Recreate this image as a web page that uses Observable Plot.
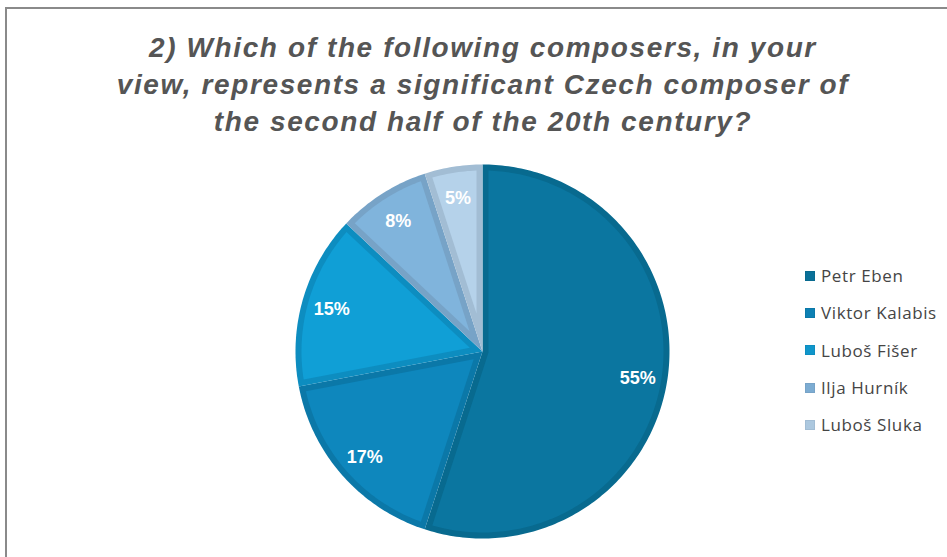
<!DOCTYPE html>
<html>
<head>
<meta charset="utf-8">
<script src="https://cdn.jsdelivr.net/npm/d3@7"></script>
<script src="https://cdn.jsdelivr.net/npm/@observablehq/plot@0.6"></script>
<style>
  html, body { margin: 0; padding: 0; background: #fff; }
  #wrap { position: relative; width: 947px; height: 557px; overflow: hidden; background: #fff; }
  #frame { position: absolute; left: 5px; top: 7px; width: 960px; height: 560px;
           border-left: 2px solid #8a8a8a; border-top: 2px solid #8a8a8a; }
  #title { position: absolute; left: 0; top: 29px; width: 966px; text-align: center;
           font-family: "Liberation Sans", Arial, sans-serif; font-weight: bold; font-style: italic;
           font-size: 28px; letter-spacing: 1.6px; line-height: 37px; color: #555555; }
  #chart { position: absolute; left: 0; top: 150px; }
  #legend { position: absolute; left: 805px; top: 257px;
            font-family: "Open Sans", "Liberation Sans", sans-serif; font-size: 17px; letter-spacing: 0.6px; color: #454545; }
  .item { height: 37.3px; display: flex; align-items: center; white-space: nowrap; }
  .sw { width: 10px; height: 10px; margin-right: 6px; box-sizing: border-box; border: 1px solid; }
</style>
</head>
<body>
<div id="wrap">
  <div id="frame"></div>
  <div id="title"></div>
  <div id="chart"></div>
  <div id="legend"></div>
</div>
<script>
// ---- data ----
const titleLines = [
  "2) Which of the following composers, in your",
  "view, represents a significant Czech composer of",
  "the second half of the 20th century?"
];
const composers = ["Petr Eben", "Viktor Kalabis", "Luboš Fišer", "Ilja Hurník", "Luboš Sluka"];
const shares = [55, 17, 15, 8, 5];
const labels = ["55%", "17%", "15%", "8%", "5%"];
// ---- styles ----
const fillColors = ["#0b76a0", "#0e87bd", "#109fd6", "#80b4dc", "#b5d2ea"];
const edgeColors = ["#086a8f", "#0b78a8", "#0d8dc0", "#77a3c7", "#a2bdd4"];

document.getElementById("title").innerHTML = titleLines.map(t => `<div>${t}</div>`).join("");

const W = 947, H = 407;
const R = 187;             // pixel radius
const band = 6 / R;        // edge band in unit coords

const arcs = d3.pie().sort(null).value((d, i) => shares[i])(composers);
const pt = (a, r) => [r * Math.sin(a), -r * Math.cos(a)];

function outerPoly(a0, a1) {
  const pts = [[0, 0]];
  const n = Math.max(4, Math.ceil((a1 - a0) / (Math.PI / 180)));
  for (let k = 0; k <= n; k++) pts.push(pt(a0 + (a1 - a0) * k / n, 1));
  pts.push([0, 0]);
  return pts;
}
function innerPoly(a0, a1) {
  const th = a1 - a0, mid = (a0 + a1) / 2;
  const rr = 1 - band;
  const apex = pt(mid, band / Math.sin(th / 2));
  const dl = Math.asin(band / rr);
  const b0 = a0 + dl, b1 = a1 - dl;
  const pts = [apex];
  const n = Math.max(4, Math.ceil((b1 - b0) / (Math.PI / 180)));
  for (let k = 0; k <= n; k++) pts.push(pt(b0 + (b1 - b0) * k / n, rr));
  pts.push(apex);
  return pts;
}

const outer = arcs.map((a, i) => ({
  type: "Feature", properties: { key: "edge:" + composers[i] },
  geometry: { type: "Polygon", coordinates: [outerPoly(a.startAngle, a.endAngle)] }
}));
const inner = arcs.map((a, i) => ({
  type: "Feature", properties: { key: composers[i] },
  geometry: { type: "Polygon", coordinates: [innerPoly(a.startAngle, a.endAngle)] }
}));
const labelData = arcs.map((a, i) => {
  const m = (a.startAngle + a.endAngle) / 2;
  const [x, y] = pt(m, 0.84);
  return { x, y, label: labels[i] };
});

const cx = 482, cy = 201;
const chart = Plot.plot({
  width: W, height: H,
  marginLeft: cx - R, marginRight: W - cx - R,
  marginTop: cy - R, marginBottom: H - cy - R,
  projection: { type: "identity", domain: { type: "MultiPoint", coordinates: [[-1, -1], [1, 1]] } },
  color: {
    domain: [...composers, ...composers.map(c => "edge:" + c)],
    range: [...fillColors, ...edgeColors]
  },
  marks: [
    Plot.geo(outer, { fill: d => d.properties.key }),
    Plot.geo(inner, { fill: d => d.properties.key }),
    Plot.text(labelData, {
      x: "x", y: "y", text: "label", fill: "white", dy: 2,
      fontSize: 18, fontWeight: "bold", fontFamily: "Liberation Sans, Arial, sans-serif"
    })
  ]
});
document.getElementById("chart").appendChild(chart);

const legend = d3.select("#legend");
composers.forEach((c, i) => {
  const it = legend.append("div").attr("class", "item");
  it.append("div").attr("class", "sw")
    .style("background", d3.interpolateRgb(fillColors[i], edgeColors[i])(0.5))
    .style("border-color", edgeColors[i]);
  it.append("span").text(c);
});
</script>
</body>
</html>
